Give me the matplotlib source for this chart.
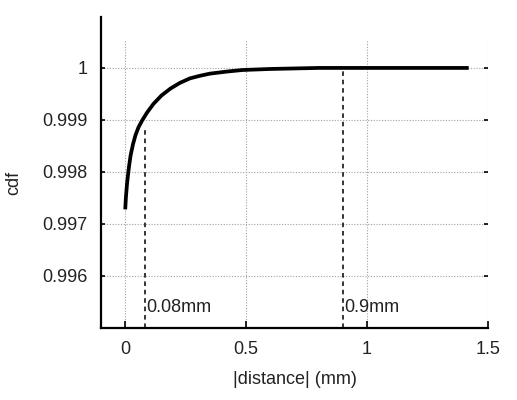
import numpy as np
import matplotlib
matplotlib.use("Agg")
import matplotlib.pyplot as plt

# cdf of |distance|
dist = [0, 0.003, 0.008, 0.015, 0.022, 0.032, 0.042, 0.055, 0.07, 0.09, 0.117,
        0.15, 0.186, 0.225, 0.268, 0.31, 0.35, 0.42, 0.485, 0.6, 0.8, 1.0, 1.42]
cdf = [0.99728, 0.99752, 0.99780, 0.99808, 0.99831, 0.99853, 0.99870, 0.99886,
       0.99899, 0.99914, 0.99931, 0.99947, 0.99960, 0.99971, 0.99980, 0.99985,
       0.99989, 0.99993, 0.99996, 0.99998, 1.0, 1.0, 1.0]

markX = [0.08, 0.9]
markTop = [0.99886, 1.0]
markText = ["0.08mm", "0.9mm"]

xTicks = [0, 0.5, 1, 1.5]
xTickLabels = ["0", "0.5", "1", "1.5"]
yTicks = [0.996, 0.997, 0.998, 0.999, 1.0]
yTickLabels = ["0.996", "0.997", "0.998", "0.999", "1"]

plt.rcParams['font.family'] = ['Liberation Sans', 'DejaVu Sans']
FS = 13

fig = plt.figure(figsize=(5.17, 4.0), dpi=100)
ax = fig.add_axes([0.1954, 0.18, 0.7486, 0.723])

ax.plot(dist, cdf, color='black', lw=2.7, solid_capstyle='butt', zorder=3)

ymin = 0.995
for x, top, txt in zip(markX, markTop, markText):
    ax.plot([x, x], [ymin, top], color='black', lw=1.1, ls=(0, (3, 2.5)), zorder=2)
    ax.text(x + 0.006, 0.99539, txt, fontsize=FS, va='center', ha='left', color='#222222')

ax.set_xlim(-0.1, 1.5)
ax.set_ylim(ymin, 1.00056)

ax.set_xticks(xTicks)
ax.set_xticklabels(xTickLabels)
ax.set_yticks(yTicks)
ax.set_yticklabels(yTickLabels)

ax.grid(True, color='#a0a0a0', ls=(0, (1, 1.5)), lw=0.8)
ax.set_axisbelow(True)

ax.spines['top'].set_visible(False)
ax.spines['right'].set_visible(False)
for s in ['left', 'bottom']:
    ax.spines[s].set_linewidth(1.6)
ax.spines['left'].set_bounds(ymin, 1.00098)
ax.spines['bottom'].set_bounds(-0.1, 1.5)

ax.tick_params(axis='both', direction='in', length=5, width=1.2,
               labelsize=FS, colors='black', labelcolor='#222222')
ax.tick_params(axis='x', pad=9)
ax.tick_params(axis='y', pad=10, right=True)
ax.tick_params(axis='y', which='major', right=True, length=3)

ax.set_xlabel('|distance| (mm)', fontsize=FS, color='#222222', labelpad=10)
ax.set_ylabel('cdf', fontsize=FS, color='#222222', labelpad=14)

fig.savefig('out.png', dpi=100)
